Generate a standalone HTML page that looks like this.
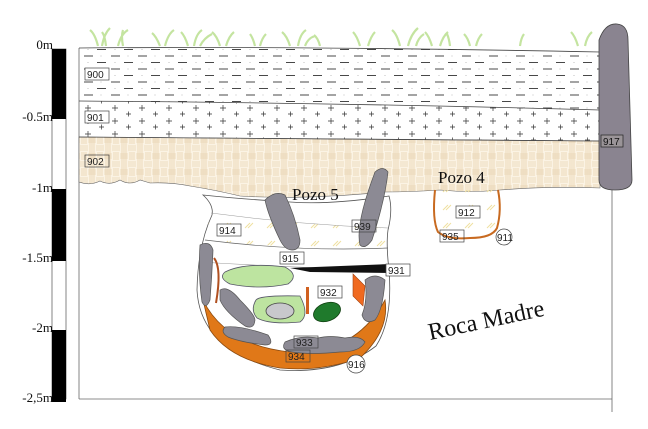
<!DOCTYPE html>
<html><head><meta charset="utf-8"><style>html,body{margin:0;padding:0;background:#fff;width:648px;height:429px;overflow:hidden}</style></head>
<body>
<svg width="648" height="429" viewBox="0 0 648 429" xmlns="http://www.w3.org/2000/svg" font-family="Liberation Serif, serif">
<defs>
<pattern id="dash" width="27" height="13" patternUnits="userSpaceOnUse">
<line x1="3" y1="4" x2="12" y2="4" stroke="#333" stroke-width="0.9"/>
<line x1="16" y1="10.5" x2="25" y2="10.5" stroke="#333" stroke-width="0.9"/>
<circle cx="20" cy="4" r="0.5" fill="#aaa"/><circle cx="7" cy="10.5" r="0.5" fill="#aaa"/>
</pattern>
<pattern id="plus" width="27" height="13" patternUnits="userSpaceOnUse">
<path d="M7 1v6M4 4h6M20.5 7.5v5M18 10h5" stroke="#333" stroke-width="0.7"/>
</pattern>
<pattern id="weave" width="16" height="16" patternUnits="userSpaceOnUse">
<rect width="16" height="16" fill="#fbf3e4"/>
<path d="M0 2h8M0 4h8M0 6h8M10 8v8M12 8v8M14 8v8M2 8v8M4 8v8M6 8v8M8 10h8M8 12h8M8 14h8M10 0v8M12 0v8M14 0v8" stroke="#e2c79e" stroke-width="0.6" fill="none"/>
</pattern>
<pattern id="hatch" width="22" height="18" patternUnits="userSpaceOnUse">
<path d="M3 12l5-5M6 12l5-5" stroke="#efe0a0" stroke-width="1"/>
</pattern>
</defs>

<rect x="52" y="49" width="14" height="350" fill="#fff" stroke="#333" stroke-width="0.6"/>
<rect x="52" y="49" width="14" height="70" fill="#000"/>
<rect x="52" y="189" width="14" height="72" fill="#000"/>
<rect x="52" y="330" width="14" height="72" fill="#000"/>
<g font-size="13" text-anchor="end" fill="#111">
<text x="53" y="49">0m</text><text x="53" y="121">-0.5m</text><text x="53" y="192">-1m</text>
<text x="53" y="262">-1.5m</text><text x="53" y="332">-2m</text><text x="53" y="402">-2,5m</text>
</g>

<line x1="79" y1="48" x2="79" y2="399" stroke="#666" stroke-width="0.8"/>
<line x1="79" y1="399" x2="612" y2="399" stroke="#666" stroke-width="0.8"/>
<line x1="612" y1="190" x2="612" y2="412" stroke="#666" stroke-width="0.8"/>

<g stroke="#c4e4a0" stroke-width="2.2" fill="none">
<path d="M98 46q-3-12-8-16M102 46q2-12 8-18M106 46q-1-10-4-14M118 46q3-12 10-16M123 46q-2-10 0-16M160 46q-4-10-8-13M165 46q3-12 9-16M188 46q-3-10-7-14M194 46q2-12 8-16M200 46q4-8 12-12M220 46q-3-10-8-14M226 46q3-10 8-14M255 46q-2-8-5-12M260 46q2-8 6-12M290 46q-3-10-8-14M298 46q2-12 8-16M305 46q3-8 10-10M320 46q-2-8-6-11M360 46q-3-10-7-14M368 46q3-10 7-14M400 46q-3-12-8-16M408 46q3-12 10-18M416 46q2-8 8-12M432 46q-3-10-7-14M440 46q3-10 8-14M450 46q-1-8-3-12M470 46q-2-8-6-12M476 46q2-8 6-12M578 46q-3-10-7-14M585 46q2-10 7-14M520 46q1-8 4-12"/>
</g>

<path d="M79 48 Q300 46 600 52 L600 110 Q350 103 79 101 Z" fill="url(#dash)"/>
<path d="M79 48 Q300 46 600 52" stroke="#444" fill="none" stroke-width="0.8"/>
<path d="M79 101 Q350 103 600 110 L600 141 Q340 140 79 137 Z" fill="url(#plus)"/>
<path d="M79 101 Q350 103 600 110" stroke="#444" fill="none" stroke-width="0.8"/>
<path d="M79 137 Q340 140 600 141 L600 188 Q550 186 500 190 Q470 193 440 190 Q410 192 385 192 Q300 200 240 196 Q215 190 190 186 Q170 182 150 183 L140 180 Q130 186 120 180 Q110 186 100 181 Q90 186 79 182 Z" fill="url(#weave)" stroke="#666" stroke-width="0.6"/>
<path d="M79 137 Q340 140 600 141" stroke="#444" fill="none" stroke-width="0.8"/>

<path d="M599 40 Q605 23 617 24 Q628 25 628 40 L632 180 Q632 190 615 190 Q599 190 599 180 Z" fill="#8a8490" stroke="#444" stroke-width="0.8"/>
<rect x="601" y="135" width="22" height="12" fill="#9a9498" stroke="#222" stroke-width="0.7"/>
<text x="603" y="145" font-size="10" font-family="Liberation Sans, sans-serif" fill="#111">917</text>

<g font-family="Liberation Sans, sans-serif" font-size="10" fill="#222">
<rect x="85" y="68" width="24" height="12" fill="#fff" stroke="#444" stroke-width="0.7"/><text x="87" y="78">900</text>
<rect x="85" y="111" width="24" height="12" fill="#fff" stroke="#444" stroke-width="0.7"/><text x="87" y="121">901</text>
<rect x="85" y="155" width="24" height="12" fill="none" stroke="#444" stroke-width="0.7"/><text x="87" y="165">902</text>
</g>

<!-- Pozo 5 -->
<path d="M203 195 Q214 205 212 215 Q198 245 197 290 Q200 350 280 370 Q340 374 376 346 Q393 320 389 270 Q386 245 388 230 Q393 210 389 196 Q330 205 290 202 Q240 199 203 195 Z" fill="#fff" stroke="#555" stroke-width="0.8"/>
<path d="M211 213 Q300 225 388 228 L388 248 Q300 250 205 240 Z" fill="url(#hatch)"/>
<path d="M211 213 Q300 225 388 228" stroke="#999" fill="none" stroke-width="0.5"/>
<path d="M205 240 Q300 252 388 248" stroke="#666" fill="none" stroke-width="0.7"/>
<path d="M199 262 Q300 268 388 270" stroke="#999" fill="none" stroke-width="0.6"/>
<path d="M290 268 L390 264 L392 273 L310 272 Z" fill="#111"/>
<path d="M203 300 Q225 345 290 352 Q355 355 385 300 Q390 330 360 358 Q320 372 280 368 Q230 360 210 330 Z" fill="#e07818" stroke="#8a4a10" stroke-width="0.8"/>
<path d="M225 272 Q245 262 285 267 Q300 275 288 284 Q260 290 230 284 Q218 278 225 272Z" fill="#bde4a0" stroke="#556" stroke-width="0.8"/>
<path d="M256 300 Q260 295 300 296 Q310 315 300 322 Q270 325 257 318 Q250 310 256 300Z" fill="#bde4a0" stroke="#556" stroke-width="0.8"/>
<ellipse cx="280" cy="311" rx="14" ry="8" fill="#c8c8cc" stroke="#444" stroke-width="0.8"/>
<ellipse cx="327" cy="312" rx="14" ry="9" transform="rotate(-20 327 312)" fill="#1f7a2c" stroke="#104010" stroke-width="0.8"/>
<path d="M214 258 Q222 268 216 303" stroke="#b05020" stroke-width="2" fill="none"/>
<rect x="306" y="287" width="3" height="27" fill="#d06020"/>
<path d="M353 274 L365 286 L363 306 L353 296 Z" fill="#f06a20" stroke="#a04010" stroke-width="0.6"/>
<g fill="#8c8a94" stroke="#555" stroke-width="0.7">
<path d="M265 200 Q275 190 285 195 Q295 215 300 240 Q300 250 292 250 Q285 250 280 240 Q268 215 265 200Z"/>
<path d="M375 172 Q383 165 388 172 Q385 200 372 240 Q365 250 360 245 Q355 225 375 172Z"/>
<path d="M200 245 Q210 240 213 250 Q212 275 210 300 Q206 310 202 302 Q198 275 200 245Z"/>
<path d="M220 290 Q228 285 240 300 Q255 315 255 320 Q254 330 245 326 Q225 312 220 300Z"/>
<path d="M225 327 Q240 325 268 335 Q275 345 265 345 Q240 342 228 337 Q220 332 225 327Z"/>
<path d="M285 342 Q300 335 318 338 Q330 335 345 338 Q360 335 365 342 Q360 352 340 352 Q310 355 292 352 Q280 350 285 342Z"/>
<path d="M365 280 Q375 272 385 280 Q383 310 375 320 Q365 325 362 315 Q368 300 365 280Z"/>
</g>
<g font-family="Liberation Sans, sans-serif" font-size="10" fill="#222">
<rect x="217" y="224" width="24" height="12" fill="#fff" stroke="#444" stroke-width="0.7"/><text x="219" y="234">914</text>
<rect x="352" y="220" width="24" height="12" fill="none" stroke="#444" stroke-width="0.7"/><text x="354" y="230">939</text>
<rect x="280" y="252" width="24" height="12" fill="#fff" stroke="#444" stroke-width="0.7"/><text x="282" y="262">915</text>
<rect x="386" y="264" width="24" height="12" fill="#fff" stroke="#444" stroke-width="0.7"/><text x="388" y="274">931</text>
<rect x="318" y="286" width="24" height="12" fill="#fff" stroke="#444" stroke-width="0.7"/><text x="320" y="296">932</text>
<rect x="294" y="336" width="24" height="12" fill="none" stroke="#444" stroke-width="0.7"/><text x="296" y="346">933</text>
<rect x="286" y="350" width="24" height="12" fill="none" stroke="#444" stroke-width="0.7"/><text x="288" y="360">934</text>
<circle cx="356" cy="364" r="9" fill="#fff" stroke="#444" stroke-width="0.7"/><text x="348" y="368">916</text>
</g>
<text x="292" y="200" font-size="17" fill="#111">Pozo 5</text>

<path d="M435 190 Q432 220 438 232 Q448 240 470 238 Q492 238 497 228 Q502 210 498 190" fill="url(#hatch)" stroke="#c86a20" stroke-width="2"/>
<g font-family="Liberation Sans, sans-serif" font-size="10" fill="#222">
<rect x="456" y="206" width="24" height="12" fill="#fff" stroke="#444" stroke-width="0.7"/><text x="458" y="216">912</text>
<rect x="440" y="230" width="24" height="12" fill="none" stroke="#444" stroke-width="0.7"/><text x="442" y="240">935</text>
<circle cx="504" cy="237" r="8" fill="#fff" stroke="#444" stroke-width="0.7"/><text x="497" y="241">911</text>
</g>
<text x="438" y="183" font-size="17" fill="#111">Pozo 4</text>

<text x="430" y="340" font-size="24" fill="#111" transform="rotate(-12 430 340)">Roca Madre</text>
</svg>
</body></html>
